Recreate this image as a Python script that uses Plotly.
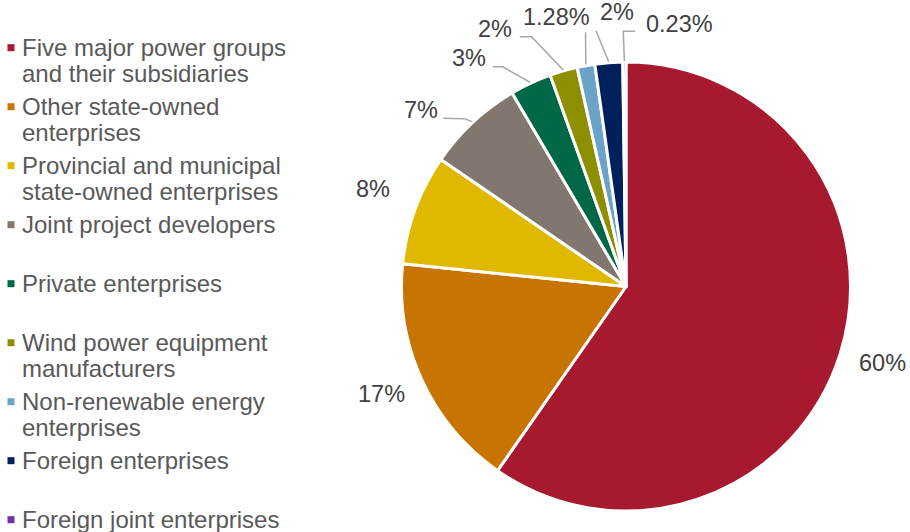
import math
import plotly.graph_objects as go

# Capacity share by developer type (percent)
categories = [
    "Five major power groups<br>and their subsidiaries",
    "Other state-owned<br>enterprises",
    "Provincial and municipal<br>state-owned enterprises",
    "Joint project developers",
    "Private enterprises",
    "Wind power equipment<br>manufacturers",
    "Non-renewable energy<br>enterprises",
    "Foreign enterprises",
    "Foreign joint enterprises",
]
shares = [60, 17, 8, 7, 3, 2, 1.28, 2, 0.23]
colors = ["#A6192E", "#C87400", "#E0B800", "#82776E", "#006747",
          "#8C9000", "#6AA2C8", "#00205B", "#7030A0"]

W, H = 910, 532
CX, CY, R = 626.0, 286.5, 224.5
FONT = "Liberation Sans, Arial, sans-serif"


def px(x):
    return x / W


def py(y):
    return 1 - y / H


fig = go.Figure()
fig.add_trace(go.Pie(
    labels=[c.replace("<br>", " ") for c in categories],
    values=shares,
    sort=False,
    direction="clockwise",
    rotation=0,
    textinfo="none",
    hoverinfo="label+percent",
    showlegend=False,
    marker=dict(colors=colors, line=dict(color="white", width=3)),
    domain=dict(x=[px(CX - R), px(CX + R)], y=[py(CY + R), py(CY - R)]),
))

# Label placement: radial labels for large slices, leader lines for small ones
label_layout = [
    dict(rf=1.2),
    dict(rf=1.2),
    dict(rf=1.2),
    dict(leader=[(-8, -3), (-28.8, -3.3)], text=(-33.8, -11.3), anchor="right"),
    dict(leader=[(-27.7, -15.5), (-37.4, -15.5)], text=(-44, -24.5), anchor="right"),
    dict(leader=[(-31.8, -33.2), (-43.5, -33.2)], text=(-50.8, -41.2), anchor="right"),
    dict(leader=[(-0.2, -32.3)], text=(-28.9, -47.3), anchor="center"),
    dict(leader=[(-12.7, -31)], text=(8, -49.4), anchor="center"),
    dict(leader=[(-1.1, -29.7), (10.6, -29.7)], text=(21.6, -37), anchor="left"),
]

total = sum(shares)
annotations = []
shapes = []
cum = 0.0
for val, lay in zip(shares, label_layout):
    mid = (cum + val / 2) / total * 2 * math.pi
    cum += val
    dx, dy = math.sin(mid), -math.cos(mid)
    label = f"{val:g}%"
    if "rf" in lay:
        tx = CX + dx * R * lay["rf"]
        ty = CY + dy * R * lay["rf"] - 4.5
        anchor = "center"
    else:
        ex, ey = CX + dx * (R + 1), CY + dy * (R + 1)
        pts = [(ex, ey)] + [(ex + a, ey + b) for a, b in lay["leader"]]
        path = "M " + " L ".join(f"{px(x):.5f},{py(y):.5f}" for x, y in pts)
        shapes.append(dict(type="path", xref="paper", yref="paper", path=path,
                           line=dict(color="#A6A6A6", width=1.5)))
        tx, ty = ex + lay["text"][0], ey + lay["text"][1]
        anchor = lay["anchor"]
    annotations.append(dict(
        x=px(tx), y=py(ty), xref="paper", yref="paper", text=label,
        showarrow=False, xanchor=anchor, yanchor="middle",
        borderpad=0, borderwidth=0,
        font=dict(family=FONT, size=23.5, color="#404040"),
    ))

# Legend drawn as square swatches with wrapped text lines
LEG_TOP, LEG_STEP, LINE_STEP = 47.7, 59.0, 26.0
for i, (name, col) in enumerate(zip(categories, colors)):
    y0 = LEG_TOP + i * LEG_STEP
    shapes.append(dict(type="rect", xref="paper", yref="paper",
                       x0=px(7.5), x1=px(14.5), y0=py(y0 - 3.5), y1=py(y0 + 3.5),
                       fillcolor=col, line=dict(width=0)))
    for j, line in enumerate(name.split("<br>")):
        annotations.append(dict(
            x=px(21.5), y=py(y0 + j * LINE_STEP), xref="paper", yref="paper",
            text=line, showarrow=False, xanchor="left", yanchor="middle",
            borderpad=0, borderwidth=0,
            font=dict(family=FONT, size=24, color="#595959"),
        ))

fig.update_layout(
    width=W, height=H,
    margin=dict(l=0, r=0, t=0, b=0),
    paper_bgcolor="white", plot_bgcolor="white",
    annotations=annotations, shapes=shapes,
    showlegend=False,
)

fig.write_html("out.html")
